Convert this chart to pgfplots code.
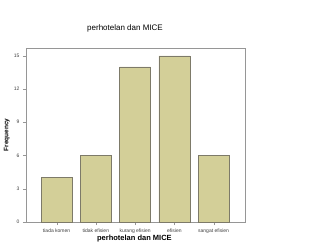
\documentclass[border=0pt]{standalone}
\usepackage{pgfplots}
\pgfplotsset{compat=1.18}
\usepackage{fontspec}
\setmainfont{Liberation Sans}
\definecolor{barfill}{RGB}{211,207,152}
\definecolor{baredge}{RGB}{125,122,105}
\definecolor{framegray}{RGB}{150,150,150}
\begin{document}
\begin{tikzpicture}
\path[use as bounding box,fill=white] (-26pt,-28pt) rectangle (294pt,222pt);
\begin{axis}[
  width=219pt, height=174pt, scale only axis,
  ymin=0, ymax=15.7,
  xmin=-0.78, xmax=4.8,
  ybar, bar width=0.79,
  ytick={0,3,6,9,12,15},
  xtick=data,
  xticklabels={tiada komen,tidak efisien,kurang efisien,efisien,sangat efisien},
  xtick pos=bottom, ytick pos=left,
  tick align=outside,
  tick style={framegray},
  major tick length=3pt,
  axis line style={framegray},
  tick label style={font=\fontsize{5}{6}\selectfont, text=black!75},
  ylabel={\bfseries Frequency},
  ylabel style={font=\fontsize{6.5}{7}\selectfont, at={(axis description cs:-0.058,0.5)}, anchor=south},
  xlabel={\bfseries perhotelan dan MICE},
  xlabel style={font=\fontsize{7.5}{8}\selectfont, at={(axis description cs:0.495,-0.055)}, anchor=north},
  /pgf/number format/assume math mode=true,
]
\addplot[fill=barfill, draw=baredge, line width=0.5pt] coordinates {(0,4) (1,6) (2,14) (3,15) (4,6)};
\end{axis}
\node[font=\fontsize{8}{9}\selectfont] at (99pt,194pt) {perhotelan dan MICE};
\end{tikzpicture}
\end{document}
